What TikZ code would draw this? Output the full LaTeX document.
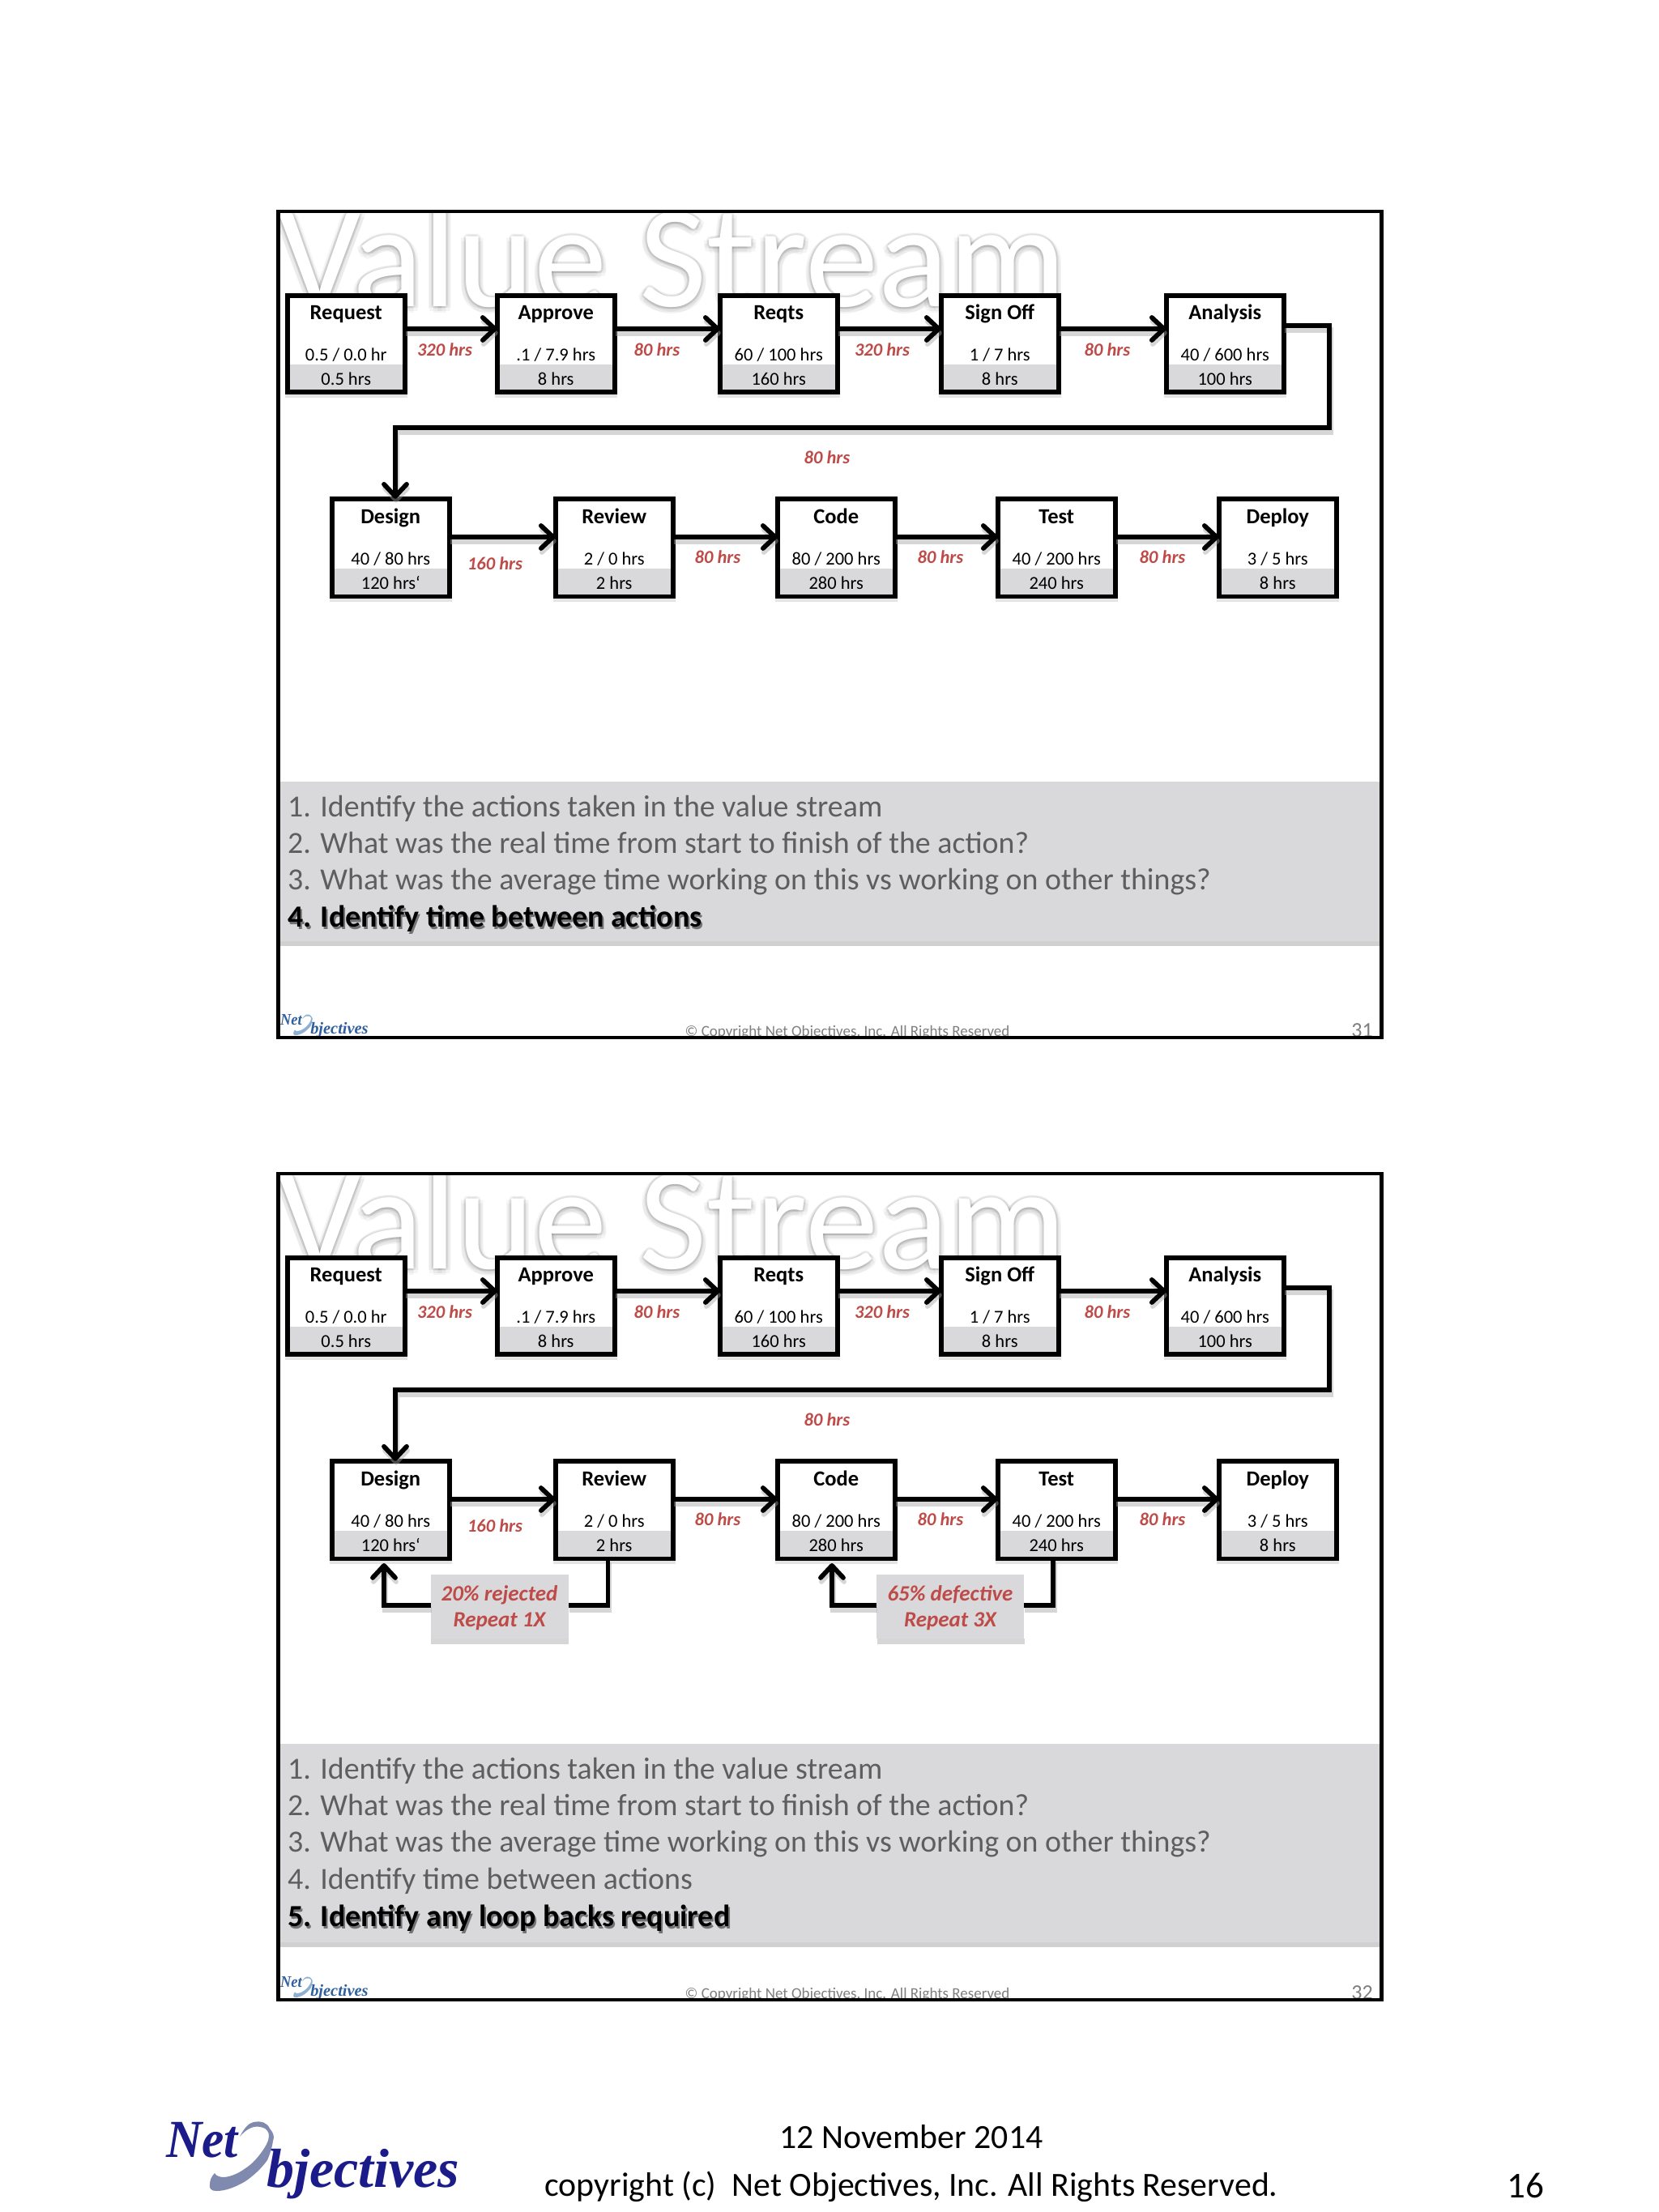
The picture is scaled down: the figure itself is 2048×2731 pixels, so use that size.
\documentclass[tikz,border=0pt]{standalone}
\usepackage{fontspec}
\setmainfont{Carlito}
\newfontfamily\logofont{Liberation Serif}
\usetikzlibrary{arrows.meta,calc}
\definecolor{redlab}{HTML}{BE4B48}
\definecolor{bandgray}{HTML}{D9D8DB}
\definecolor{listgray}{HTML}{5E5E60}
\definecolor{footgray}{HTML}{7F7F7F}
\definecolor{logonavy}{HTML}{1B1B8A}
\definecolor{logoswoosh}{HTML}{7F8AAE}
\definecolor{smalllogo}{HTML}{2F5F9E}
\definecolor{smallswoosh}{HTML}{8FB0D0}
\newcommand{\fs}[1]{\fontsize{#1}{#1}\selectfont}
\tikzset{
  x=1pt,y=-1pt,
  procbox/.style={draw=black,line width=5.5pt,fill=white,minimum width=145pt,minimum height=119pt,inner sep=0pt,outer sep=0pt,
    preaction={draw=black!30,opacity=.35,line width=5.5pt,transform canvas={yshift=-4pt}},
    path picture={\fill[bandgray] ($(path picture bounding box.south west)+(0,-34)$) rectangle (path picture bounding box.south east);}},
  boxtitle/.style={anchor=base,font=\fs{26.5}\bfseries,text=black,inner sep=0pt},
  boxtext/.style={anchor=base,font=\fs{22.5},text=black,inner sep=0pt},
  timelab/.style={font=\fs{22.5}\bfseries\itshape,text=redlab,inner sep=0pt},
  flow/.style={draw=black,line width=5.8pt,line join=miter,-{Straight Barb[length=15pt,width=28pt,line width=5.8pt,round]},
    preaction={draw=black!35,opacity=.45,line width=7pt,transform canvas={xshift=1pt,yshift=-5pt}}},
  loopline/.style={draw=black,line width=5.8pt,
    preaction={draw=black!35,opacity=.45,line width=7pt,transform canvas={xshift=1pt,yshift=-5pt}}},
  notebox/.style={fill=bandgray,minimum height=79pt,inner sep=0pt,outer sep=0pt},
  notetext/.style={font=\fs{27}\bfseries\itshape,text=redlab,align=center,inner sep=0pt},
  slideframe/.style={draw=black,line width=4.6pt,minimum width=1362pt,minimum height=1020pt,inner sep=0pt,outer sep=0pt,anchor=north west},
  listtext/.style={anchor=base west,font=\fs{37.9},text=listgray,inner sep=0pt},
  listbold/.style={anchor=base west,font=\fs{37.9}\bfseries,text=black,inner sep=0pt},
  listshadow/.style={anchor=base west,font=\fs{37.9}\bfseries,text=black!55,inner sep=0pt},
  foottext/.style={font=\fs{19},text=footgray,inner sep=0pt},
  pagetext/.style={font=\fs{41.8},text=black,inner sep=0pt},
}
\newcommand{\proc}[7]{% name, left, top, title, mid, bottom, extra height
  \node[procbox,anchor=north west,minimum height=119pt+#7pt] (#1) at (#2+2.75,#3+2.75) {};
  \node[boxtitle] (#1-t) at ($(#1.north)+(0,29.5+#7)$) {#4};
  \node[boxtext] (#1-m) at ($(#1.north)+(0,80.5+#7)$) {#5};
  \node[boxtext] (#1-b) at ($(#1.north)+(0,110.5+#7)$) {#6};
}
\newcommand{\netlogo}[6]{% name, x, y, scale, text colour, swoosh colour
  \begin{scope}[shift={(#2,#3)},scale=#4,transform shape]
    \fill[#6] (91,20) .. controls (97,8) and (103,3) .. (108,2) .. controls (118,0) and (125,3) .. (128,10)
      .. controls (133,16) and (134,20) .. (132,25) .. controls (131,33) and (128,42) .. (125,49)
      .. controls (117,60) and (108,68) .. (98,75) .. controls (86,82) and (74,87) .. (62,87)
      .. controls (56,87) and (53,84) .. (54,79) .. controls (54,74) and (56,69) .. (60,65)
      .. controls (62,69) and (67,70) .. (72,70) .. controls (81,69) and (90,65) .. (98,59)
      .. controls (106,54) and (113,46) .. (118,39) .. controls (123,32) and (127,25) .. (127,19)
      .. controls (127,14) and (124,10) .. (120,9) .. controls (115,7) and (110,7) .. (105,9)
      .. controls (100,11) and (95,15) .. (91,20) -- cycle;
    \node[anchor=base west,inner sep=0pt,text=#5,font=\logofont\fs{66}\bfseries\itshape,xscale=.93] (#1-a) at (0,45) {Net};
    \node[anchor=base west,inner sep=0pt,text=#5,font=\logofont\fs{68}\bfseries\itshape] (#1-b) at (124,82) {bjectives};
  \end{scope}
}
\newcommand{\vstitle}[2]{% top offset, name
  \begin{scope}
    \clip (344,#1+262) rectangle (1702,#1+400);
    \foreach \dx/\dy in {-3/0,3/0,0/-3,0/3,-2/-2,2/-2,-2/2,2/2,-6/2,6/2,0/8,-5/6,5/6}{
      \node[anchor=base west,inner sep=0pt,font=\fs{181},text=black,opacity=.04] at (343+\dx,#1+378+\dy) {Value Stream};
    }
    \node[anchor=base west,inner sep=0pt,font=\fs{181},text=white] (#2) at (343,#1+378) {Value Stream};
  \end{scope}
}
\newcommand{\flowchart}{%
  \proc{Request}{352}{362}{Request}{0.5 / 0.0 hr}{0.5 hrs}{0}
  \proc{Approve}{611}{362}{Approve}{.1 / 7.9 hrs}{8 hrs}{0}
  \proc{Reqts}{886}{362}{Reqts}{60 / 100 hrs}{160 hrs}{0}
  \proc{SignOff}{1159}{362}{Sign Off}{1 / 7 hrs}{8 hrs}{0}
  \proc{Analysis}{1437}{362}{Analysis}{40 / 600 hrs}{100 hrs}{0}
  \proc{Design}{407}{613}{Design}{40 / 80 hrs}{120 hrs\symbol{96}}{1.5}
  \proc{Review}{683}{613}{Review}{2 / 0 hrs}{2 hrs}{1.5}
  \proc{Code}{957}{613}{Code}{80 / 200 hrs}{280 hrs}{1.5}
  \proc{Test}{1229}{613}{Test}{40 / 200 hrs}{240 hrs}{1.5}
  \proc{Deploy}{1502}{613}{Deploy}{3 / 5 hrs}{8 hrs}{1.5}
  \coordinate (c0) at (0,406);
  \coordinate (d0) at (0,663);
  \coordinate (c1) at (1641,402);
  \coordinate (c2) at (1641,528);
  \coordinate (c3) at (488,528);
  \path[flow] (Request.east |- c0) -- (Approve.west |- c0);
  \path[flow] (Approve.east |- c0) -- (Reqts.west |- c0);
  \path[flow] (Reqts.east |- c0) -- (SignOff.west |- c0);
  \path[flow] (SignOff.east |- c0) -- (Analysis.west |- c0);
  \path[flow] (Analysis.east |- c1) -- (c1) -- (c2) -- (c3) -- (c3 |- Design.north);
  \path[flow] (Design.east |- d0) -- (Review.west |- d0);
  \path[flow] (Review.east |- d0) -- (Code.west |- d0);
  \path[flow] (Code.east |- d0) -- (Test.west |- d0);
  \path[flow] (Test.east |- d0) -- (Deploy.west |- d0);
  \node[timelab] (l1) at (549,432) {320 hrs};
  \node[timelab] (l2) at (811,432) {80 hrs};
  \node[timelab] (l3) at (1089,432) {320 hrs};
  \node[timelab] (l4) at (1367,432) {80 hrs};
  \node[timelab] (l5) at (1021,565) {80 hrs};
  \node[timelab] (l6) at (611,696) {160 hrs};
  \node[timelab] (l7) at (886,688) {80 hrs};
  \node[timelab] (l8) at (1161,688) {80 hrs};
  \node[timelab] (l9) at (1435,688) {80 hrs};
}
\begin{document}
\begin{tikzpicture}
\useasboundingbox (0,0) rectangle (2048,2731);
\fill[white] (0,0) rectangle (2048,2731);

% ---------- slide 31 ----------
\fill[black!30,opacity=.6] (345,1162) rectangle (1703,1168);
\fill[bandgray] (345,965) rectangle (1703,1162);
\vstitle{0}{ta}
\node[listtext] (a1) at (355,1008) {1. Identify the actions taken in the value stream};
\node[listtext] (a2) at (355,1053) {2. What was the real time from start to finish of the action?};
\node[listtext] (a3) at (355,1098) {3. What was the average time working on this vs working on other things?};
\node[listshadow] (a4s) at (357,1147) {4. Identify time between actions};
\node[listbold] (a4) at (355,1144) {4. Identify time between actions};
\begin{scope}[name prefix=a-]
  \flowchart
\end{scope}
\begin{scope}
  \clip (344,1200) rectangle (1704,1280);
  \netlogo{la}{346}{1252}{.3}{smalllogo}{smallswoosh}
  \node[foottext,anchor=base] (fa) at (1046,1279) {© Copyright Net Objectives, Inc. All Rights Reserved};
  \node[foottext,anchor=base east,font=\fs{26}] (na) at (1695,1280) {31};
\end{scope}
\node[slideframe] (fr1) at (343.3,261) {};

% ---------- slide 32 ----------
\fill[black!30,opacity=.6] (345,2398) rectangle (1703,2404);
\fill[bandgray] (345,2153) rectangle (1703,2398);
\vstitle{1188}{tb}
\node[listtext] (b1) at (355,2196) {1. Identify the actions taken in the value stream};
\node[listtext] (b2) at (355,2241) {2. What was the real time from start to finish of the action?};
\node[listtext] (b3) at (355,2286) {3. What was the average time working on this vs working on other things?};
\node[listtext] (b4) at (355,2332) {4. Identify time between actions};
\node[listshadow] (b5s) at (357,2381) {5. Identify any loop backs required};
\node[listbold] (b5) at (355,2378) {5. Identify any loop backs required};
\begin{scope}[shift={(0,1188)},name prefix=b-]
  \flowchart
\end{scope}
\begin{scope}[name prefix=b-]
  \coordinate (r1) at (750.5,1982);
  \coordinate (r2) at (474,1982);
  \coordinate (r3) at (1300,1982);
  \coordinate (r4) at (1027,1982);
  \coordinate (t1) at (474,1930);
  \coordinate (t2) at (1027,1930);
  \fill[black!35,opacity=.45] (532,2023) rectangle (702,2030);
  \fill[black!35,opacity=.45] (1083,2023) rectangle (1265,2030);
  \node[notebox,minimum width=170pt] (nn1) at (616.5,1983.5) {};
  \node[notebox,minimum width=182pt] (nn2) at (1173,1983.5) {};
  \node[notetext] (nt1) at (616.5,1985) {20\% rejected\\[5pt]Repeat 1X};
  \node[notetext] (nt2) at (1173,1985) {65\% defective\\[5pt]Repeat 3X};
  \path[loopline] (r1 |- Review.south) -- (r1) -- (nn1.east |- r1);
  \path[flow] (nn1.west |- r2) -- (r2) -- (t1);
  \path[loopline] (r3 |- Test.south) -- (r3) -- (nn2.east |- r3);
  \path[flow] (nn2.west |- r4) -- (r4) -- (t2);
\end{scope}
\begin{scope}
  \clip (344,2300) rectangle (1704,2468);
  \netlogo{lb}{346}{2440}{.3}{smalllogo}{smallswoosh}
  \node[foottext,anchor=base] (fb) at (1046,2467) {© Copyright Net Objectives, Inc. All Rights Reserved};
  \node[foottext,anchor=base east,font=\fs{26}] (nb) at (1695,2468) {32};
\end{scope}
\node[slideframe] (fr2) at (343.3,1449) {};

% ---------- page footer ----------
\netlogo{lc}{205}{2618}{1}{logonavy}{logoswoosh}
\node[pagetext] (date) at (1125,2638) {12 November 2014};
\node[pagetext] (copy) at (1125,2700) {copyright (c)\ \ Net Objectives, Inc. All Rights Reserved.};
\node[pagetext,font=\fs{45}] (pg) at (1883,2698) {16};
\end{tikzpicture}
\end{document}
